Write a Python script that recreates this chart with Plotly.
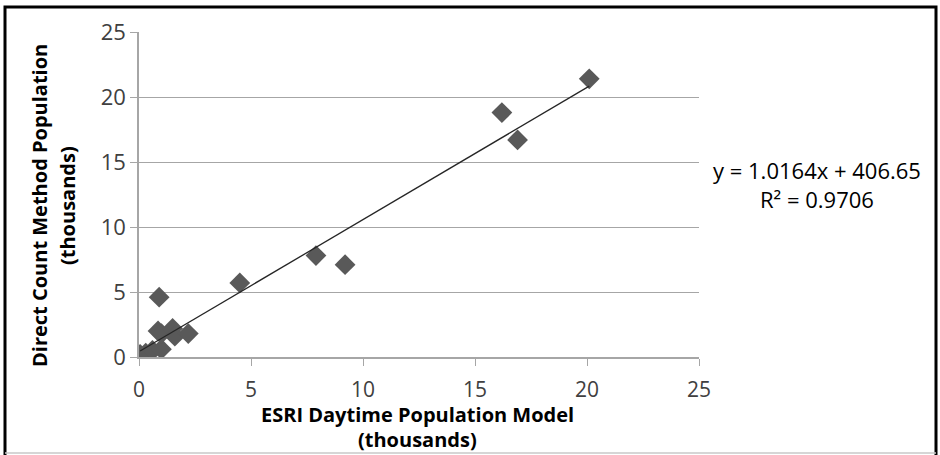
import plotly.graph_objects as go
import numpy as np

# Data (thousands)
esri_x = [0.05, 0.3, 0.6, 1.0, 0.85, 1.0, 1.5, 1.6, 2.2, 0.9, 4.5, 7.9, 9.2, 16.2, 16.9, 20.1]
direct_y = [0.2, 0.3, 0.5, 0.6, 2.0, 1.8, 2.2, 1.6, 1.8, 4.6, 5.7, 7.8, 7.1, 18.8, 16.7, 21.4]
slope = 1.0164
intercept = 0.40665  # 406.65 persons -> thousands
r_squared = 0.9706
tick_vals = [0, 5, 10, 15, 20, 25]
x_title = ["ESRI Daytime Population Model", "(thousands)"]
y_title = ["Direct Count Method Population", "(thousands)"]

FONT = "Open Sans"
GRAY = "#595959"

# plot area in pixels
L, R, T, B = 139, 699, 32, 357
W, H = 940, 455

fig = go.Figure()
fig.add_trace(go.Scatter(
    x=esri_x, y=direct_y, mode="markers",
    marker=dict(symbol="diamond", size=16, color=GRAY, line=dict(width=0)),
    showlegend=False))

xs = np.array([min(esri_x), max(esri_x)])
fig.add_trace(go.Scatter(
    x=xs, y=slope * xs + intercept, mode="lines",
    line=dict(color="#262626", width=1.3), showlegend=False))

fig.update_layout(
    width=W, height=H,
    margin=dict(l=L, r=W - R, t=T, b=H - B),
    paper_bgcolor="white", plot_bgcolor="white",
    font=dict(family=FONT, color="#404040", size=22),
    xaxis=dict(range=[0, 25], tickvals=tick_vals, showgrid=False, zeroline=False,
               showline=True, linecolor="#a6a6a6", linewidth=1.5,
               ticks="outside", ticklen=7, tickcolor="#a6a6a6",
               ticklabelstandoff=6,
               tickfont=dict(size=21, family=FONT, color="#404040")),
    yaxis=dict(range=[0, 25], tickvals=tick_vals, showgrid=True, gridcolor="#a6a6a6",
               gridwidth=1.3, zeroline=False,
               showline=True, linecolor="#a6a6a6", linewidth=1.5,
               ticks="outside", ticklen=7, tickcolor="#a6a6a6",
               tickfont=dict(size=22, family=FONT, color="#404040")),
)

def px(xp):
    return (xp - L) / (R - L)

def py(yp):
    return (B - yp) / (B - T)

def text(x, y, s, size, bold=False, angle=0):
    fig.add_annotation(
        xref="paper", yref="paper", x=px(x), y=py(y), xanchor="center", yanchor="middle",
        text=f"<b>{s}</b>" if bold else s, showarrow=False, textangle=angle, borderpad=0,
        font=dict(size=size, family=FONT, color="#000000"))

# trendline equation
text(817, 170, f"y = {slope}x + {intercept*1000:.2f}", 22)
text(817, 199, f"R² = {r_squared}", 22)

# axis titles
text(417, 414, x_title[0], 20, bold=True)
text(417, 439, x_title[1], 20, bold=True)
text(39, 206, y_title[0], 20, bold=True, angle=-90)
text(67, 206, y_title[1], 20, bold=True, angle=-90)

# outer border: black on three sides, light gray at the bottom
fig.add_shape(type="path", xref="paper", yref="paper",
              path=f"M {px(5)},{py(460)} L {px(5)},{py(7)} L {px(936)},{py(7)} L {px(936)},{py(460)}",
              line=dict(color="black", width=3), layer="below")
fig.add_shape(type="line", xref="paper", yref="paper",
              x0=px(5), x1=px(936), y0=py(453), y1=py(453),
              line=dict(color="#c8c8c8", width=1.5), layer="below")

fig.write_html("out.html", config={"displayModeBar": False},
               post_script="document.body.style.margin='0';")
